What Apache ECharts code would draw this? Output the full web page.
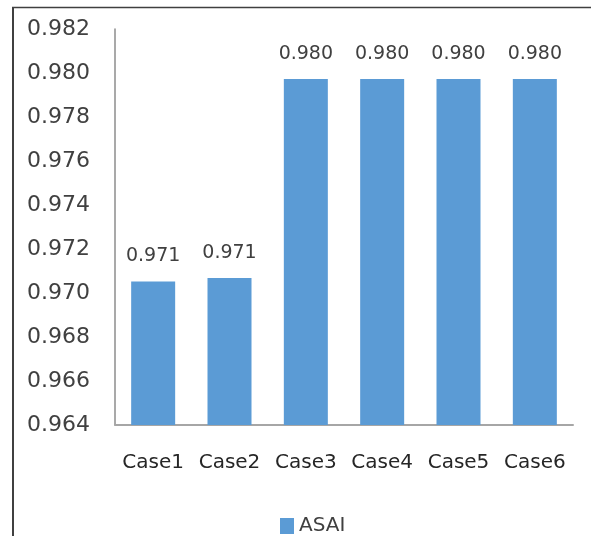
<!DOCTYPE html>
<html>
<head>
<meta charset="utf-8">
<script src="https://cdn.jsdelivr.net/npm/echarts@6/dist/echarts.min.js"></script>
<style>
html,body{margin:0;padding:0;background:#fff;}
#c{width:591px;height:536px;}
</style>
</head>
<body>
<div id="c"></div>
<script>
var categories = ['Case1', 'Case2', 'Case3', 'Case4', 'Case5', 'Case6'];
var asaiValues = [0.97052, 0.97068, 0.97973, 0.97973, 0.97973, 0.97973];
var yMin = 0.964, yMax = 0.982, yStep = 0.002;
var seriesName = 'ASAI';

var chart = echarts.init(document.getElementById('c'), null, {renderer: 'canvas'});
var font = 'DejaVu Sans';
chart.setOption({
  animation: false,
  backgroundColor: '#fff',
  grid: {left: 115, right: 18, top: 29, bottom: 111},
  legend: {
    data: [seriesName],
    left: 275, top: 511,
    itemWidth: 14, itemHeight: 16, itemGap: 6,
    icon: 'rect',
    textStyle: {fontFamily: font, fontSize: 20, color: '#404040'}
  },
  xAxis: {
    type: 'category',
    data: categories,
    axisLine: {show: true, lineStyle: {color: '#a6a6a6', width: 2}},
    axisTick: {show: false},
    axisLabel: {interval: 0, fontFamily: font, fontSize: 20, color: '#262626', margin: 26, lineHeight: 24}
  },
  yAxis: {
    type: 'value',
    min: yMin, max: yMax, interval: yStep,
    axisLine: {show: true, lineStyle: {color: '#8c8c8c', width: 1.5}},
    axisTick: {show: false},
    splitLine: {show: false},
    axisLabel: {
      fontFamily: font, fontSize: 22, color: '#404040', margin: 25,
      formatter: function (v) { return v.toFixed(3); }
    }
  },
  series: [{
    name: seriesName,
    type: 'bar',
    data: asaiValues,
    barWidth: 44,
    itemStyle: {color: '#5b9bd5'},
    label: {
      show: true, position: 'top', distance: 15,
      fontFamily: font, fontSize: 19, color: '#404040', lineHeight: 20,
      formatter: function (p) { return p.value.toFixed(3); }
    }
  }],
  graphic: [
    {type: 'line', shape: {x1: 13, y1: 7, x2: 13, y2: 536}, style: {stroke: '#000', lineWidth: 1.5}},
    {type: 'line', shape: {x1: 12, y1: 7.5, x2: 591, y2: 7.5}, style: {stroke: '#404040', lineWidth: 1.5}}
  ]
});
</script>
</body>
</html>
